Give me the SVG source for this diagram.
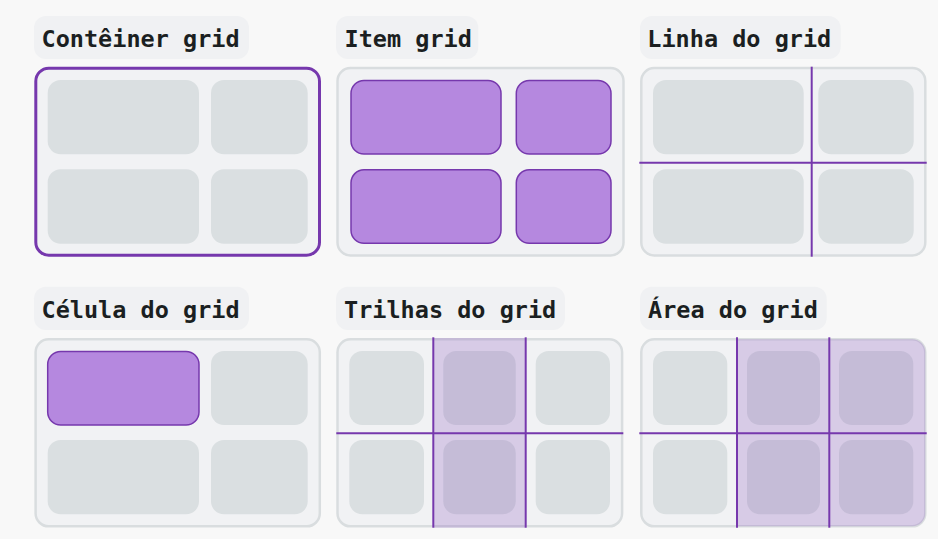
<svg xmlns="http://www.w3.org/2000/svg" width="938" height="539" viewBox="0 0 938 539">
<defs>
<style>
.bg{fill:#f8f8f8}
.lbl{fill:#f0f1f3}
.lt{font-family:"DejaVu Sans Mono","Liberation Mono",monospace;font-weight:bold;font-size:23.5px;fill:#1b1f21}
.box{fill:#f1f2f4;stroke:#d9dddf;stroke-width:2.5}
.boxsel{fill:#f1f2f4;stroke:#7638ad;stroke-width:3}
.cell{fill:#dadfe1}
.item{fill:#b588df;stroke:#7638ad;stroke-width:1.5}
.ln{stroke:#7638ad;stroke-width:2;fill:none}
.ov{fill:#7b3fb5;fill-opacity:0.22}
</style>
<clipPath id="c6"><rect x="641.3" y="339.3" width="284" height="187" rx="13"/></clipPath>
</defs>
<rect class="bg" x="0" y="0" width="938" height="539"/>

<g id="container-grid">
<rect class="lbl" x="34" y="16" width="215" height="43" rx="12"/>
<text class="lt" x="41.5" y="47">Contêiner grid</text>
<rect class="boxsel" x="35.8" y="68.2" width="283.7" height="187" rx="13"/>
<rect class="cell" x="47.7" y="80" width="151.3" height="74.3" rx="13"/>
<rect class="cell" x="211" y="80" width="96.7" height="74.3" rx="13"/>
<rect class="cell" x="47.7" y="169.3" width="151.3" height="74.4" rx="13"/>
<rect class="cell" x="211" y="169.3" width="96.7" height="74.4" rx="13"/>
</g>

<g id="item-grid">
<rect class="lbl" x="336" y="16" width="142.3" height="43" rx="12"/>
<text class="lt" x="344.5" y="47">Item grid</text>
<rect class="box" x="337.5" y="68" width="286" height="187.5" rx="13"/>
<rect class="item" x="351" y="80.5" width="150" height="73.5" rx="13"/>
<rect class="item" x="516.3" y="80.5" width="94.7" height="73.5" rx="13"/>
<rect class="item" x="351" y="169.8" width="150" height="73.5" rx="13"/>
<rect class="item" x="516.3" y="169.8" width="94.7" height="73.5" rx="13"/>
</g>

<g id="linha-grid">
<rect class="lbl" x="640" y="16" width="200.7" height="43" rx="12"/>
<text class="lt" x="647.3" y="47">Linha do grid</text>
<rect class="box" x="641.3" y="68" width="284" height="187.5" rx="13"/>
<rect class="cell" x="653" y="80" width="150.7" height="74.3" rx="13"/>
<rect class="cell" x="818.3" y="80" width="95.4" height="74.3" rx="13"/>
<rect class="cell" x="653" y="169.3" width="150.7" height="74.4" rx="13"/>
<rect class="cell" x="818.3" y="169.3" width="95.4" height="74.4" rx="13"/>
</g>

<g id="celula-grid">
<rect class="lbl" x="34" y="286.7" width="215" height="43.3" rx="12"/>
<text class="lt" x="41.5" y="317.7">Célula do grid</text>
<rect class="box" x="35.6" y="339.3" width="284.2" height="187" rx="13"/>
<rect class="item" x="47.7" y="351.5" width="151.3" height="73.5" rx="13"/>
<rect class="cell" x="211" y="351" width="96.7" height="74" rx="13"/>
<rect class="cell" x="47.7" y="440" width="151.3" height="74.3" rx="13"/>
<rect class="cell" x="211" y="440" width="96.7" height="74.3" rx="13"/>
</g>

<g id="trilhas-grid">
<rect class="lbl" x="336" y="286.7" width="229" height="43.3" rx="12"/>
<text class="lt" x="344" y="317.7">Trilhas do grid</text>
<rect class="box" x="337.5" y="339.3" width="284.6" height="187" rx="13"/>
<rect class="ov" x="433.3" y="338" width="92.4" height="189.7"/>
<rect class="cell" x="349.3" y="351" width="74.7" height="74" rx="13"/>
<rect class="cell" x="443.3" y="351" width="72.4" height="74" rx="13"/>
<rect class="cell" x="535.7" y="351" width="74.3" height="74" rx="13"/>
<rect class="cell" x="349.3" y="440" width="74.7" height="74.3" rx="13"/>
<rect class="cell" x="443.3" y="440" width="72.4" height="74.3" rx="13"/>
<rect class="cell" x="535.7" y="440" width="74.3" height="74.3" rx="13"/>
<rect class="ov" x="443.3" y="351" width="72.4" height="74" rx="13"/>
<rect class="ov" x="443.3" y="440" width="72.4" height="74.3" rx="13"/>
</g>

<g id="area-grid">
<rect class="lbl" x="640" y="286.7" width="186.7" height="43.3" rx="12"/>
<text class="lt" x="648" y="317.7">Área do grid</text>
<rect class="box" x="641.3" y="339.3" width="284" height="187" rx="13"/>
<rect class="ov" x="737" y="338" width="190" height="190" clip-path="url(#c6)"/>
<rect class="cell" x="653" y="351" width="74.3" height="74" rx="13"/>
<rect class="cell" x="747" y="351" width="73" height="74" rx="13"/>
<rect class="cell" x="839" y="351" width="74.3" height="74" rx="13"/>
<rect class="cell" x="653" y="440" width="74.3" height="74.3" rx="13"/>
<rect class="cell" x="747" y="440" width="73" height="74.3" rx="13"/>
<rect class="cell" x="839" y="440" width="74.3" height="74.3" rx="13"/>
<rect class="ov" x="747" y="351" width="73" height="74" rx="13"/>
<rect class="ov" x="839" y="351" width="74.3" height="74" rx="13"/>
<rect class="ov" x="747" y="440" width="73" height="74.3" rx="13"/>
<rect class="ov" x="839" y="440" width="74.3" height="74.3" rx="13"/>
</g>

<g id="connectors">
<line class="ln" x1="811.7" y1="66.7" x2="811.7" y2="256.7"/>
<line class="ln" x1="639.3" y1="162.7" x2="926.7" y2="162.7"/>
<line class="ln" x1="433.3" y1="337.3" x2="433.3" y2="527.7"/>
<line class="ln" x1="525.7" y1="337.3" x2="525.7" y2="527.7"/>
<line class="ln" x1="336.3" y1="433.3" x2="623.3" y2="433.3"/>
<line class="ln" x1="737" y1="337.3" x2="737" y2="527.7"/>
<line class="ln" x1="829.3" y1="337.3" x2="829.3" y2="527.7"/>
<line class="ln" x1="639.3" y1="433.3" x2="926.7" y2="433.3"/>
</g>
</svg>
